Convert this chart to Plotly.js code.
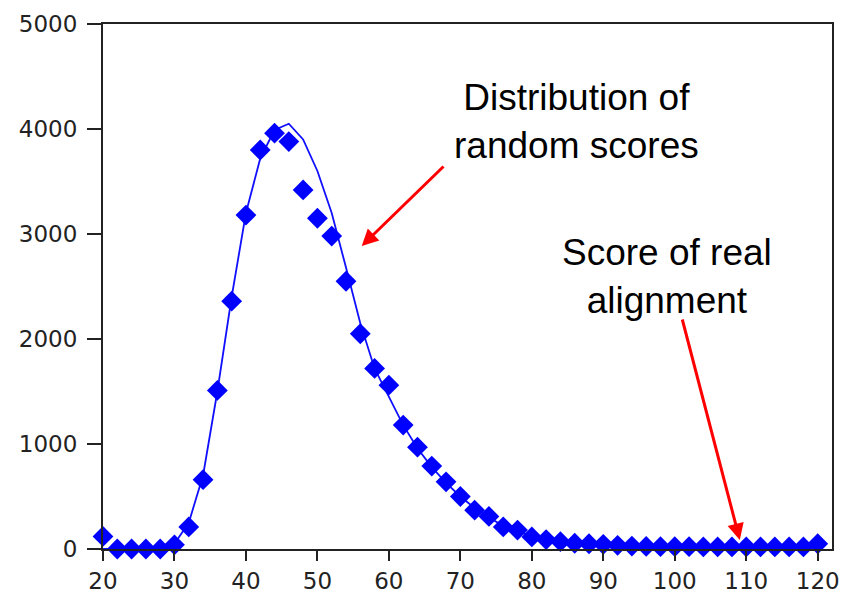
<!DOCTYPE html>
<html>
<head>
<meta charset="utf-8">
<script src="https://cdn.plot.ly/plotly-3.0.1.min.js"></script>
<style>html,body{margin:0;padding:0;background:#fff;}#chart{width:843px;height:597px;}</style>
</head>
<body>
<div id="chart"></div>
<script>
// Observed distribution of random scores (diamonds)
const scores = [20,22,24,26,28,30,32,34,36,38,40,42,44,46,48,50,52,54,56,58,60,62,64,66,68,70,72,74,76,78,80,82,84,86,88,90,92,94,96,98,100,102,104,106,108,110,112,114,116,118,120];
const counts = [120,0,0,0,0,40,210,660,1510,2360,3180,3800,3960,3880,3420,3150,2980,2550,2050,1720,1560,1180,970,790,640,500,370,310,210,180,115,90,70,55,50,45,35,28,25,22,22,22,20,20,20,20,20,20,20,20,50];
// Fitted curve (line)
const fitX = [20,22,24,26,28,30,32,34,36,38,40,42,44,46,48,50,52,54,56,58,60,62,64,66,68,70,72,74,76,78,80,82,84,86,88,90,92,94,96,98,100,102,104,106,108,110,112,114,116,118,120];
const fitY = [0,0,0,0,0,50,250,700,1500,2400,3200,3720,3990,4050,3900,3600,3200,2680,2150,1720,1450,1180,960,780,630,500,390,300,220,170,120,90,70,55,45,38,32,28,25,22,22,22,20,20,20,20,20,20,20,20,40];
const xTicks = [20,30,40,50,60,70,80,90,100,110,120];
const yTicks = [0,1000,2000,3000,4000,5000];
const label1 = "Distribution of<br>random scores";
const label2 = "Score of real<br>alignment";

const traces = [
  {x: fitX, y: fitY, mode: 'lines', line: {color: '#1010ff', width: 1.8}, hoverinfo: 'skip', cliponaxis: false},
  {x: scores, y: counts, mode: 'markers', marker: {symbol: 'diamond', size: 16, color: '#0000ff'}, cliponaxis: false}
];

const tickFont = {family: 'DejaVu Sans, Verdana, sans-serif', size: 23, color: '#222'};
const textFont = {family: 'Liberation Sans, Arial, sans-serif', size: 37, color: '#000'};

const layout = {
  width: 843, height: 597,
  margin: {l: 103, r: 11, t: 24, b: 48},
  paper_bgcolor: '#fff', plot_bgcolor: '#fff',
  showlegend: false,
  xaxis: {range: [20, 122], tickvals: xTicks, ticktext: xTicks.map(String), ticks: 'outside', ticklen: 10, tickwidth: 2, tickcolor: '#222',
          showline: true, linecolor: '#222', linewidth: 2, mirror: true, showgrid: false, zeroline: false, tickfont: tickFont, fixedrange: true},
  yaxis: {range: [0, 5000], tickvals: yTicks, ticktext: yTicks.map(String), ticks: 'outside', ticklen: 14, tickwidth: 2, tickcolor: '#222',
          ticklabelstandoff: 5,
          showline: true, linecolor: '#222', linewidth: 2, mirror: true, showgrid: false, zeroline: false, tickfont: tickFont, fixedrange: true},
  annotations: [
    {x: 86.3, y: 4076, xref: 'x', yref: 'y', text: label1, showarrow: false, font: textFont, align: 'center'},
    {x: 98.9, y: 2600, xref: 'x', yref: 'y', text: label2, showarrow: false, font: textFont, align: 'center'},
    {x: 56.2, y: 2886, xref: 'x', yref: 'y', ax: 67.85, ay: 3657, axref: 'x', ayref: 'y', text: '', showarrow: true,
     arrowhead: 2, arrowsize: 1.1, arrowwidth: 3, arrowcolor: '#ff0000'},
    {x: 109.1, y: 86, xref: 'x', yref: 'y', ax: 101.0, ay: 2200, axref: 'x', ayref: 'y', text: '', showarrow: true,
     arrowhead: 2, arrowsize: 1.1, arrowwidth: 3, arrowcolor: '#ff0000'}
  ]
};

Plotly.newPlot('chart', traces, layout, {displayModeBar: false, staticPlot: true});
</script>
</body>
</html>
